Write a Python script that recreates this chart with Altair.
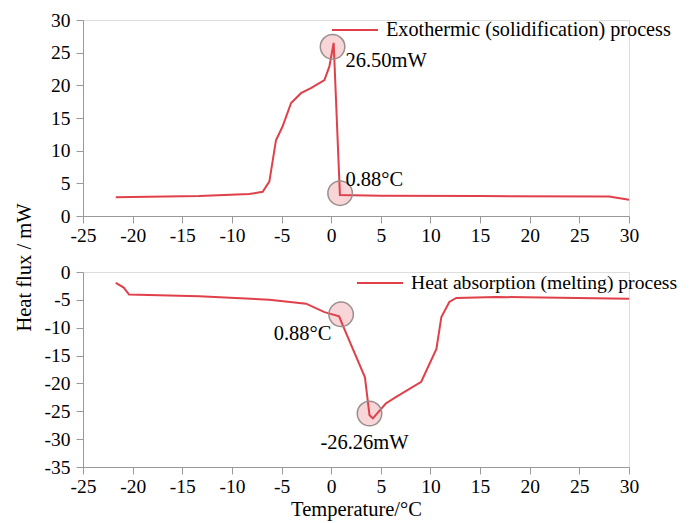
import altair as alt
import pandas as pd

# Exothermic (solidification) curve
exo_t = [-21.7, -13.3, -8.25, -6.9, -6.23, -5.56, -4.9, -4.04, -3.04, -2.0, -0.68, -0.18, 0.25, 0.88, 5.0, 15.0, 28.0, 30.0]
exo_q = [2.86, 3.06, 3.37, 3.7, 5.26, 11.6, 13.7, 17.3, 18.8, 19.6, 20.8, 22.9, 26.5, 3.2, 3.1, 3.05, 3.0, 2.5]

# Heat absorption (melting) curve
mel_t = [-21.7, -20.9, -20.36, -13.3, -6.23, -2.53, -0.68, 0.8, 1.17, 3.4, 3.86, 4.2, 5.5, 6.55, 9.07, 10.6, 11.1, 11.9, 12.6, 16.6, 30.0]
mel_q = [-1.97, -2.8, -4.06, -4.36, -4.96, -5.68, -7.2, -7.95, -9.57, -18.9, -25.7, -26.26, -23.6, -22.4, -19.7, -13.8, -8.07, -5.38, -4.66, -4.48, -4.78]

exo_name = "Exothermic (solidification) process"
mel_name = "Heat absorption (melting) process"

# highlighted points
exo_mark_t = [0.14, 0.9]
exo_mark_q = [25.9, 3.5]
mel_mark_t = [1.0, 3.86]
mel_mark_q = [-7.6, -25.4]

# annotation labels
exo_lab_t = [1.44, 1.44]
exo_lab_q = [23.7, 5.5]
exo_lab_s = ["26.50mW", "0.88\u00b0C"]
mel_lab_t = [0.02, 3.36]
mel_lab_q = [-11.06, -30.75]
mel_lab_s = ["0.88\u00b0C", "-26.26mW"]
mel_lab_a = ["right", "center"]

x_ticks = list(range(-25, 31, 5))
top_ticks = list(range(0, 31, 5))
bot_ticks = list(range(-35, 1, 5))

FONT = "Liberation Serif"
RED = "#e0404a"
AX = "#999999"
LBL = "(datum.value < 0 ? '-' : '') + abs(datum.value)"

W, H1, H2 = 546, 196, 195

exo_df = pd.DataFrame({"t": exo_t, "q": exo_q, "s": exo_name})
mel_df = pd.DataFrame({"t": mel_t, "q": mel_q, "s": mel_name})
exo_mk = pd.DataFrame({"t": exo_mark_t, "q": exo_mark_q})
mel_mk = pd.DataFrame({"t": mel_mark_t, "q": mel_mark_q})
exo_lb = pd.DataFrame({"t": exo_lab_t, "q": exo_lab_q, "s": exo_lab_s})
mel_lb = pd.DataFrame({"t": mel_lab_t, "q": mel_lab_q, "s": mel_lab_s, "a": mel_lab_a})


def xaxis(title=None):
    kw = dict(values=x_ticks, tickSize=7, labelPadding=3, labelFontSize=19.5,
              labelFont=FONT, labelColor="black", domainColor=AX, tickColor=AX,
              grid=False, labelFlush=False, labelOverlap=False, labelExpr=LBL)
    if title:
        kw.update(title=title, titleFont=FONT, titleFontSize=20.5, titleFontWeight="normal",
                  titleColor="black", titlePadding=4)
    else:
        kw.update(title=None)
    return alt.Axis(**kw)


def yaxis(vals, title=None):
    kw = dict(values=vals, tickSize=7, labelPadding=6, labelFontSize=19.5,
              labelFont=FONT, labelColor="black", domainColor=AX, tickColor=AX,
              grid=False, labelFlush=False, labelOverlap=False, labelExpr=LBL)
    if title:
        kw.update(title=title, titleFont=FONT, titleFontSize=20.5, titleFontWeight="normal",
                  titleColor="black", titleX=-59, titleY=-5, titleAngle=270,
                  titleAlign="center", titleBaseline="middle")
    else:
        kw.update(title=None)
    return alt.Axis(**kw)


def legend(lx, ly, fs):
    return alt.Legend(orient="none", legendX=lx, legendY=ly, title=None,
                      symbolType="stroke", symbolSize=2116, symbolStrokeWidth=2,
                      labelFont=FONT, labelFontSize=fs, labelColor="black",
                      labelOffset=7, padding=0, labelLimit=400)


XS = alt.Scale(domain=[-25, 30], nice=False)


def make_panel(df, mk, lb, ydom, yvals, name, leg, h, ytitle=None, xtitle=None):
    ys = alt.Scale(domain=ydom, nice=False)
    X = alt.X("t:Q", scale=XS, axis=xaxis(xtitle))
    Y = alt.Y("q:Q", scale=ys, axis=yaxis(yvals, ytitle))
    line = alt.Chart(df).mark_line(strokeWidth=2).encode(
        x=X, y=Y,
        color=alt.Color("s:N", scale=alt.Scale(domain=[name], range=[RED]), legend=leg),
    )
    pts = alt.Chart(mk).mark_point(shape="circle", filled=True, size=600, fill=RED,
                                   fillOpacity=0.22, stroke="#9a8f8f", strokeWidth=1.5,
                                   strokeOpacity=1, opacity=1).encode(x=X, y=Y)
    layers = [line, pts]
    aligns = list(lb["a"].unique()) if "a" in lb.columns else ["left"]
    for a in aligns:
        base = alt.Chart(lb)
        if "a" in lb.columns:
            base = base.transform_filter(alt.datum.a == a)
        layers.append(base.mark_text(font=FONT, fontSize=20.5, baseline="middle", align=a,
                                     color="black").encode(x=X, y=Y, text="s:N"))
    return alt.layer(*layers).properties(width=W, height=h)


top = make_panel(exo_df, exo_mk, exo_lb, [0, 30], top_ticks, exo_name,
                 legend(248, -14, 20.2), H1)
bottom = make_panel(mel_df, mel_mk, mel_lb, [-35, 0], bot_ticks, mel_name,
                    legend(273, -13, 19.6), H2,
                    ytitle="Heat flux / mW", xtitle="Temperature/\u00b0C")

chart = alt.vconcat(top, bottom, spacing=56, bounds="flush").resolve_scale(
    color="independent").resolve_legend(color="independent").properties(
    padding={"left": 5, "top": -3, "right": 0, "bottom": 0}
).configure_view(stroke=None).configure(background="white").configure_axis(
    labelFont=FONT, titleFont=FONT).configure_legend(labelFont=FONT).configure_text(font=FONT)

chart.save("out.html", embed_options={"renderer": "svg", "actions": False})
